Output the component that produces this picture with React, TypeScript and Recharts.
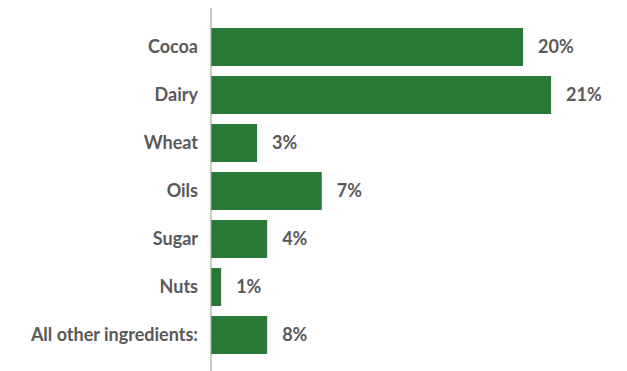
import React from "react";
import { BarChart, Bar, XAxis, YAxis, LabelList } from "recharts";

const ingredients = [
  "Cocoa",
  "Dairy",
  "Wheat",
  "Oils",
  "Sugar",
  "Nuts",
  "All other ingredients:",
];
// bar lengths as drawn in the picture
const shares = [20, 21.8, 2.95, 7.1, 3.6, 0.65, 3.6];
// printed value labels
const shareLabels = ["20%", "21%", "3%", "7%", "4%", "1%", "8%"];

const data = ingredients.map((name, i) => ({
  name,
  share: shares[i],
  label: shareLabels[i],
}));

const FONT = "Lato, 'Noto Sans', sans-serif";
const GREEN = "#2a7835";
const GREY = "#595959";

const ValueLabel = (props: any) => {
  const { x, y, width, height, index } = props;
  return (
    <text
      x={x + width + 15}
      y={y + height / 2}
      dy="0.355em"
      textAnchor="start"
      fill={GREY}
      fontFamily={FONT}
      fontWeight={700}
      fontSize={18}
    >
      {shareLabels[index]}
    </text>
  );
};

export default function App() {
  return (
    <div style={{ width: 627, height: 371 }}>
      <style>{`body{margin:0;overflow:hidden}`}</style>
      <BarChart
        width={627}
        height={371}
        data={data}
        layout="vertical"
        margin={{ top: 8, right: 26, left: 0, bottom: 0 }}
      >
        <XAxis type="number" domain={[0, 25]} hide />
        <YAxis
          type="category"
          dataKey="name"
          width={211}
          padding={{ top: 15, bottom: 12 }}
          tickLine={false}
          tickSize={6}
          tickMargin={7}
          axisLine={{ stroke: "#8fae93", strokeWidth: 1.2 }}
          tick={{
            fill: GREY,
            fontFamily: FONT,
            fontWeight: 700,
            fontSize: 18,
          }}
          interval={0}
        />
        <Bar
          dataKey="share"
          fill={GREEN}
          barSize={38}
          isAnimationActive={false}
        >
          <LabelList dataKey="label" content={<ValueLabel />} />
        </Bar>
      </BarChart>
    </div>
  );
}
